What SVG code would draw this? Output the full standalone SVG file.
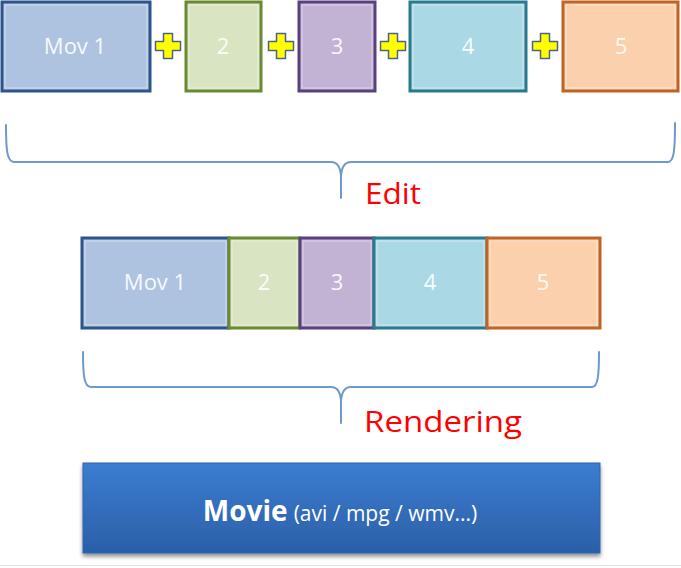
<svg xmlns="http://www.w3.org/2000/svg" width="681" height="568" viewBox="0 0 681 568">
<defs>
<linearGradient id="movieGrad" x1="0" y1="0" x2="0" y2="1">
<stop offset="0" stop-color="#3b7dd0"/>
<stop offset="1" stop-color="#2b5fa8"/>
</linearGradient>
<filter id="shadow" x="-5%" y="-10%" width="110%" height="130%">
<feGaussianBlur in="SourceAlpha" stdDeviation="2"/>
<feOffset dy="3"/>
<feComponentTransfer><feFuncA type="linear" slope="0.45"/></feComponentTransfer>
<feMerge><feMergeNode/><feMergeNode in="SourceGraphic"/></feMerge>
</filter>
<path id="plus" d="M-4.5,-12.5 H4.5 V-4.5 H12.5 V4.5 H4.5 V12.5 H-4.5 V4.5 H-12.5 V-4.5 H-4.5 Z"/>
</defs>
<style>
.box{stroke-width:3}
.inner{fill:none;stroke:#ffffff;stroke-opacity:0.45;stroke-width:1}
.lbl{font-family:"Open Sans","Noto Sans","Liberation Sans",sans-serif;font-size:22px;fill:#ffffff;fill-opacity:0.92;text-anchor:middle}
.c1{fill:#adc3e0;stroke:#2d558c}
.c2{fill:#d9e4c2;stroke:#6a8a32}
.c3{fill:#c2b2d3;stroke:#5b4080}
.c4{fill:#aad8e4;stroke:#2a7a8e}
.c5{fill:#fbd0ad;stroke:#bf6425}
.brace{fill:none;stroke:#6e98ce;stroke-width:2;stroke-linecap:round;stroke-linejoin:round}
.red{font-family:"Open Sans","Noto Sans","Liberation Sans",sans-serif;font-size:30px;fill:#ff0000}
.plusS{fill:#ffff00;stroke:#4b6486;stroke-width:1.5;stroke-linejoin:round}
</style>
<rect width="681" height="568" fill="#ffffff"/>

<g id="top-row">
<g id="t-mov1"><rect class="box c1" x="2" y="2" width="148" height="89"/><rect class="inner" x="5" y="5" width="142" height="83"/><text class="lbl" x="75" y="54">Mov 1</text></g>
<g id="t-2"><rect class="box c2" x="186" y="2" width="75" height="89"/><rect class="inner" x="189" y="5" width="69" height="83"/><text class="lbl" x="223" y="54">2</text></g>
<g id="t-3"><rect class="box c3" x="299" y="2" width="76" height="89"/><rect class="inner" x="302" y="5" width="70" height="83"/><text class="lbl" x="337" y="54">3</text></g>
<g id="t-4"><rect class="box c4" x="410" y="2" width="116" height="89"/><rect class="inner" x="413" y="5" width="110" height="83"/><text class="lbl" x="468" y="54">4</text></g>
<g id="t-5"><rect class="box c5" x="563" y="2" width="115" height="89"/><rect class="inner" x="566" y="5" width="109" height="83"/><text class="lbl" x="621" y="54">5</text></g>
</g>

<g id="plus-signs">
<use href="#plus" class="plusS" x="168" y="46"/>
<use href="#plus" class="plusS" x="281" y="46"/>
<use href="#plus" class="plusS" x="393" y="46"/>
<use href="#plus" class="plusS" x="545" y="46"/>
</g>

<g id="connectors">
<path class="brace" d="M6,125 C6,150 7,162 14,162 L331,162 Q340,162 341,176 L341,198 M341,176 Q342,162 351,162 L668,162 C674,162 675,150 675,123"/>
<path class="brace" d="M83,352 C83,375 84,387 91,387 L331,387 Q340,387 341,401 L341,423 M341,401 Q342,387 351,387 L592,387 C598,387 599,375 599,352"/>
</g>

<g id="edit-label"><text class="red" x="365" y="204" textLength="56" lengthAdjust="spacingAndGlyphs">Edit</text></g>

<g id="middle-row">
<g id="m-mov1"><rect class="box c1" x="82" y="238" width="147" height="90"/><rect class="inner" x="85" y="241" width="141" height="84"/><text class="lbl" x="155" y="290">Mov 1</text></g>
<g id="m-2"><rect class="box c2" x="229" y="238" width="71" height="90"/><rect class="inner" x="232" y="241" width="65" height="84"/><text class="lbl" x="264" y="290">2</text></g>
<g id="m-3"><rect class="box c3" x="300" y="238" width="74" height="90"/><rect class="inner" x="303" y="241" width="68" height="84"/><text class="lbl" x="337" y="290">3</text></g>
<g id="m-4"><rect class="box c4" x="374" y="238" width="113" height="90"/><rect class="inner" x="377" y="241" width="107" height="84"/><text class="lbl" x="430" y="290">4</text></g>
<g id="m-5"><rect class="box c5" x="487" y="238" width="113" height="90"/><rect class="inner" x="490" y="241" width="107" height="84"/><text class="lbl" x="543" y="290">5</text></g>
</g>

<g id="rendering-label"><text class="red" x="364" y="432" textLength="158" lengthAdjust="spacingAndGlyphs">Rendering</text></g>

<g id="movie">
<rect x="83" y="463" width="517" height="90" fill="url(#movieGrad)" stroke="#2f64ac" stroke-width="1" filter="url(#shadow)"/>
<text x="340" y="521" text-anchor="middle" font-family="'Open Sans','Noto Sans','Liberation Sans',sans-serif" fill="#ffffff"><tspan font-size="28" font-weight="bold">Movie</tspan><tspan font-size="21" dx="6">(avi / mpg / wmv...)</tspan></text>
</g>

<line x1="0" y1="565.5" x2="681" y2="565.5" stroke="#e2e2e2" stroke-width="1"/>
</svg>
